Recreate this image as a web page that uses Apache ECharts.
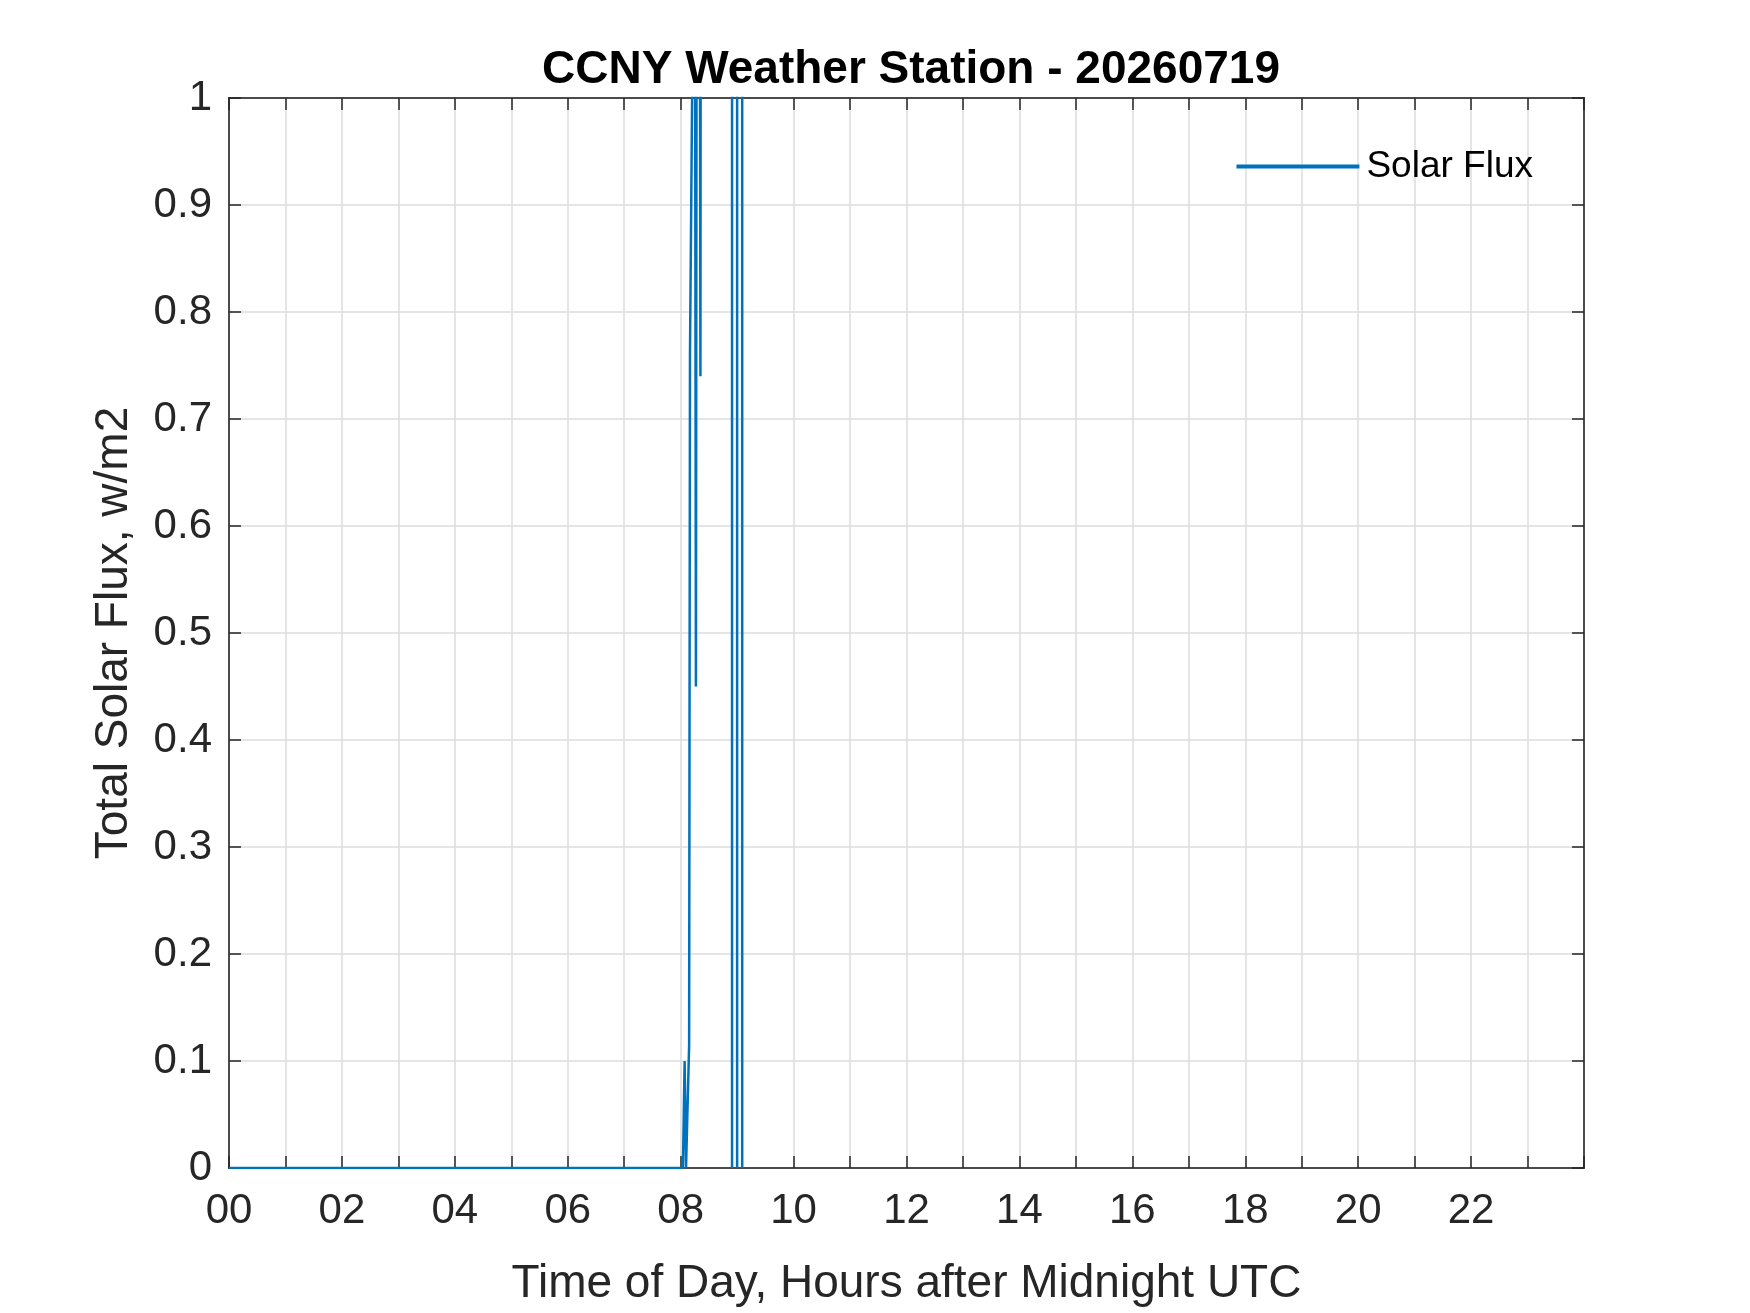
<!DOCTYPE html>
<html>
<head>
<meta charset="utf-8">
<script src="https://cdn.jsdelivr.net/npm/echarts@6/dist/echarts.min.js"></script>
<style>html,body{margin:0;padding:0;background:#fff}#c{width:1750px;height:1313px}</style>
</head>
<body>
<div id="c"></div>
<script>
/** 数据 */
var hours = [0, 1, 2, 3, 4, 5, 6, 7, 8.0, 8.04, 8.07, 8.095, 8.15, 8.165, 8.25, 8.27, 8.29, 8.33, 8.35, 8.38, 8.6, 8.9, 8.91, 8.92, 8.99, 9.0, 9.01, 9.08, 9.09, 9.1];
var flux  = [0, 0, 0, 0, 0, 0, 0, 0, 0,   0,    0.1,  0,     0.115, 0.76, 1.3, 0.45, 1.5, 1.5, 0.74, 3,  60,  80,  0,    80,   80,  0,   80,   80,  0,    80];
var xTicks = ['00','02','04','06','08','10','12','14','16','18','20','22'];

var fnt = 'Liberation Sans, Arial, Helvetica, sans-serif';
var axisColor = '#262626';

var pts = [];
for (var i = 0; i < hours.length; i++) pts.push([hours[i], flux[i]]);

var myChart = echarts.init(document.getElementById('c'));

//坐标轴刻度（朝内）
function tick() {
    return {show: true, inside: true, length: 12, lineStyle: {color: axisColor, width: 1.5}};
}
function line() {
    return {show: true, onZero: false, lineStyle: {color: axisColor, width: 1.5}};
}

var option = {
    animation: false,
    backgroundColor: '#fff',
    title: {
        text: 'CCNY Weather Station - 20260719',
        left: 906, textAlign: 'center', top: 42,
        textStyle: {fontFamily: fnt, fontSize: 46, fontWeight: 'bold', color: '#000'}
    },
    legend: {
        right: 212, top: 143,
        itemWidth: 123, itemHeight: 4, itemGap: 10,
        icon: 'rect',
        textStyle: {fontFamily: fnt, fontSize: 37, color: '#000', padding: [0, 0, 0, 2]},
        data: ['Solar Flux']
    },
    grid: {left: 229, right: 166, top: 98, bottom: 145, show: true,
        borderColor: axisColor, borderWidth: 1.5, backgroundColor: 'transparent'},
    xAxis: [{
        type: 'value', min: 0, max: 24, interval: 1, position: 'bottom',
        axisLine: line(), axisTick: tick(),
        name: 'Time of Day, Hours after Midnight UTC',
        nameLocation: 'middle', nameGap: 93,
        nameTextStyle: {fontFamily: fnt, fontSize: 46, color: axisColor},
        axisLabel: {
            fontFamily: fnt, fontSize: 42, color: axisColor, margin: 22,
            formatter: function (v) {
                return (v % 2 === 0 && v < 24) ? xTicks[v / 2] : '';
            }
        },
        splitLine: {show: true, lineStyle: {color: '#dcdcdc', width: 1.5}}
    }, {
        type: 'value', min: 0, max: 24, interval: 1, position: 'top',
        axisLine: line(), axisTick: tick(), axisLabel: {show: false}, splitLine: {show: false}
    }],
    yAxis: [{
        type: 'value', min: 0, max: 1, interval: 0.1, position: 'left',
        axisLine: line(), axisTick: tick(),
        name: 'Total Solar Flux, w/m2',
        nameLocation: 'middle', nameGap: 92,
        nameTextStyle: {fontFamily: fnt, fontSize: 46, color: axisColor},
        axisLabel: {
            fontFamily: fnt, fontSize: 42, color: axisColor, margin: 17,
            formatter: function (v) { return v === 0 ? '0' : (v === 1 ? '1' : v.toFixed(1)); }
        },
        splitLine: {show: true, lineStyle: {color: '#dcdcdc', width: 1.5}}
    }, {
        type: 'value', min: 0, max: 1, interval: 0.1, position: 'right',
        axisLine: line(), axisTick: tick(), axisLabel: {show: false}, splitLine: {show: false}
    }],
    series: [{
        name: 'Solar Flux',
        type: 'line',
        data: pts,
        showSymbol: false,
        clip: true,
        color: '#0072BD',
        lineStyle: {color: '#0072BD', width: 2.5}
    }, {
        // 占位，让上、右坐标轴画出刻度
        type: 'line', xAxisIndex: 1, yAxisIndex: 1, data: [], silent: true
    }]
};

myChart.setOption(option);
</script>
</body>
</html>
